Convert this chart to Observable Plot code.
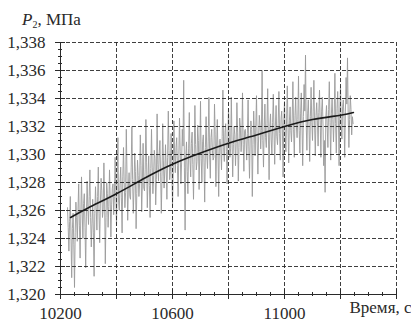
<!DOCTYPE html>
<html><head><meta charset="utf-8">
<script src="https://cdn.jsdelivr.net/npm/d3@7"></script>
<script src="https://cdn.jsdelivr.net/npm/@observablehq/plot@0.6"></script>
<style>
body{margin:0;background:#fff}
svg{display:block}
svg text{font-family:"Liberation Serif","Times New Roman",Times,"DejaVu Serif",serif !important}
</style>
</head><body><div id="chart"></div>
<script>
// Sampling times of the measured series, s
const times = [
10225,10227.5,10230,10232.5,10235,10237.5,10240,10242.5,10245,10247.5,10250,10252.5,10255,10257.5,10260,10262.5,10265,10267.5,10270,10272.5,
10275,10277.5,10280,10282.5,10285,10287.5,10290,10292.5,10295,10297.5,10300,10302.5,10305,10307.5,10310,10312.5,10315,10317.5,10320,10322.5,
10325,10327.5,10330,10332.5,10335,10337.5,10340,10342.5,10345,10347.5,10350,10352.5,10355,10357.5,10360,10362.5,10365,10367.5,10370,10372.5,
10375,10377.5,10380,10382.5,10385,10387.5,10390,10392.5,10395,10397.5,10400,10402.5,10405,10407.5,10410,10412.5,10415,10417.5,10420,10422.5,
10425,10427.5,10430,10432.5,10435,10437.5,10440,10442.5,10445,10447.5,10450,10452.5,10455,10457.5,10460,10462.5,10465,10467.5,10470,10472.5,
10475,10477.5,10480,10482.5,10485,10487.5,10490,10492.5,10495,10497.5,10500,10502.5,10505,10507.5,10510,10512.5,10515,10517.5,10520,10522.5,
10525,10527.5,10530,10532.5,10535,10537.5,10540,10542.5,10545,10547.5,10550,10552.5,10555,10557.5,10560,10562.5,10565,10567.5,10570,10572.5,
10575,10577.5,10580,10582.5,10585,10587.5,10590,10592.5,10595,10597.5,10600,10602.5,10605,10607.5,10610,10612.5,10615,10617.5,10620,10622.5,
10625,10627.5,10630,10632.5,10635,10637.5,10640,10642.5,10645,10647.5,10650,10652.5,10655,10657.5,10660,10662.5,10665,10667.5,10670,10672.5,
10675,10677.5,10680,10682.5,10685,10687.5,10690,10692.5,10695,10697.5,10700,10702.5,10705,10707.5,10710,10712.5,10715,10717.5,10720,10722.5,
10725,10727.5,10730,10732.5,10735,10737.5,10740,10742.5,10745,10747.5,10750,10752.5,10755,10757.5,10760,10762.5,10765,10767.5,10770,10772.5,
10775,10777.5,10780,10782.5,10785,10787.5,10790,10792.5,10795,10797.5,10800,10802.5,10805,10807.5,10810,10812.5,10815,10817.5,10820,10822.5,
10825,10827.5,10830,10832.5,10835,10837.5,10840,10842.5,10845,10847.5,10850,10852.5,10855,10857.5,10860,10862.5,10865,10867.5,10870,10872.5,
10875,10877.5,10880,10882.5,10885,10887.5,10890,10892.5,10895,10897.5,10900,10902.5,10905,10907.5,10910,10912.5,10915,10917.5,10920,10922.5,
10925,10927.5,10930,10932.5,10935,10937.5,10940,10942.5,10945,10947.5,10950,10952.5,10955,10957.5,10960,10962.5,10965,10967.5,10970,10972.5,
10975,10977.5,10980,10982.5,10985,10987.5,10990,10992.5,10995,10997.5,11000,11002.5,11005,11007.5,11010,11012.5,11015,11017.5,11020,11022.5,
11025,11027.5,11030,11032.5,11035,11037.5,11040,11042.5,11045,11047.5,11050,11052.5,11055,11057.5,11060,11062.5,11065,11067.5,11070,11072.5,
11075,11077.5,11080,11082.5,11085,11087.5,11090,11092.5,11095,11097.5,11100,11102.5,11105,11107.5,11110,11112.5,11115,11117.5,11120,11122.5,
11125,11127.5,11130,11132.5,11135,11137.5,11140,11142.5,11145,11147.5,11150,11152.5,11155,11157.5,11160,11162.5,11165,11167.5,11170,11172.5,
11175,11177.5,11180,11182.5,11185,11187.5,11190,11192.5,11195,11197.5,11200,11202.5,11205,11207.5,11210,11212.5,11215,11217.5,11220,11222.5,
11225,11227.5,11230,11232.5,11235,11237.5,11240,11242.5,11245];
// Measured pressure P2, MPa
const pressure = [
1.3262,1.3248,1.3231,1.3252,1.3270,1.3241,1.3212,1.3247,1.3258,1.3236,1.3205,1.3244,1.3266,1.3255,1.3238,1.3261,1.3279,1.3249,1.3226,1.3257,
1.3284,1.3259,1.3240,1.3265,1.3272,1.3248,1.3219,1.3256,1.3281,1.3263,1.3250,1.3270,1.3289,1.3255,1.3234,1.3251,1.3268,1.3244,1.3213,1.3258,
1.3277,1.3262,1.3246,1.3270,1.3291,1.3258,1.3237,1.3266,1.3283,1.3274,1.3255,1.3261,1.3294,1.3268,1.3222,1.3255,1.3280,1.3272,1.3248,1.3263,
1.3289,1.3268,1.3241,1.3264,1.3276,1.3279,1.3257,1.3270,1.3298,1.3275,1.3249,1.3283,1.3312,1.3266,1.3260,1.3280,1.3291,1.3269,1.3244,1.3284,
1.3305,1.3280,1.3262,1.3273,1.3318,1.3286,1.3253,1.3277,1.3287,1.3270,1.3268,1.3291,1.3320,1.3282,1.3258,1.3276,1.3301,1.3288,1.3247,1.3272,
1.3296,1.3285,1.3270,1.3279,1.3314,1.3292,1.3259,1.3281,1.3308,1.3276,1.3274,1.3289,1.3325,1.3294,1.3262,1.3283,1.3299,1.3278,1.3255,1.3290,
1.3318,1.3291,1.3272,1.3285,1.3303,1.3297,1.3264,1.3282,1.3329,1.3293,1.3281,1.3300,1.3310,1.3287,1.3258,1.3284,1.3322,1.3296,1.3276,1.3289,
1.3307,1.3290,1.3268,1.3298,1.3331,1.3303,1.3282,1.3288,1.3315,1.3295,1.3263,1.3286,1.3324,1.3301,1.3287,1.3305,1.3312,1.3292,1.3270,1.3299,
1.3326,1.3302,1.3279,1.3294,1.3318,1.3306,1.3353,1.3291,1.3246,1.3299,1.3309,1.3288,1.3272,1.3304,1.3330,1.3296,1.3284,1.3308,1.3316,1.3293,
1.3268,1.3298,1.3335,1.3307,1.3289,1.3295,1.3321,1.3310,1.3275,1.3302,1.3338,1.3297,1.3280,1.3309,1.3314,1.3294,1.3266,1.3305,1.3327,1.3300,
1.3290,1.3309,1.3341,1.3300,1.3283,1.3312,1.3318,1.3303,1.3296,1.3298,1.3336,1.3314,1.3277,1.3306,1.3325,1.3299,1.3270,1.3310,1.3311,1.3304,
1.3289,1.3313,1.3346,1.3305,1.3295,1.3316,1.3322,1.3302,1.3279,1.3309,1.3333,1.3315,1.3298,1.3304,1.3341,1.3311,1.3284,1.3307,1.3320,1.3314,
1.3292,1.3308,1.3337,1.3316,1.3281,1.3305,1.3326,1.3319,1.3302,1.3312,1.3344,1.3307,1.3288,1.3317,1.3318,1.3310,1.3296,1.3315,1.3339,1.3306,
1.3283,1.3311,1.3324,1.3318,1.3270,1.3307,1.3331,1.3316,1.3299,1.3320,1.3342,1.3309,1.3286,1.3313,1.3328,1.3321,1.3304,1.3317,1.3360,1.3310,
1.3291,1.3319,1.3336,1.3312,1.3305,1.3322,1.3347,1.3314,1.3282,1.3320,1.3329,1.3311,1.3300,1.3323,1.3343,1.3316,1.3293,1.3321,1.3335,1.3313,
1.3307,1.3322,1.3345,1.3315,1.3296,1.3325,1.3331,1.3318,1.3284,1.3323,1.3338,1.3314,1.3302,1.3326,1.3349,1.3319,1.3294,1.3324,1.3334,1.3317,
1.3309,1.3326,1.3352,1.3318,1.3298,1.3328,1.3341,1.3320,1.3312,1.3325,1.3356,1.3317,1.3301,1.3329,1.3344,1.3321,1.3292,1.3327,1.3350,1.3331,
1.3371,1.3322,1.3303,1.3329,1.3339,1.3320,1.3295,1.3327,1.3348,1.3323,1.3310,1.3331,1.3353,1.3321,1.3299,1.3328,1.3337,1.3324,1.3306,1.3330,
1.3346,1.3324,1.3298,1.3331,1.3341,1.3321,1.3292,1.3310,1.3273,1.3326,1.3335,1.3320,1.3305,1.3332,1.3352,1.3323,1.3296,1.3329,1.3340,1.3325,
1.3309,1.3327,1.3358,1.3322,1.3301,1.3333,1.3345,1.3324,1.3292,1.3330,1.3349,1.3321,1.3311,1.3334,1.3339,1.3326,1.3298,1.3331,1.3355,1.3336,
1.3369,1.3328,1.3305,1.3325,1.3342,1.3332,1.3314,1.3327,1.3322];
// Smoothed trend (black curve)
const trendTimes = [10236,10300,10400,10500,10600,10700,10800,10900,11000,11100,11200,11246];
const trendValues = [1.3255,1.3262,1.3272,1.3283,1.3293,1.3301,1.3308,1.3314,1.3320,1.3325,1.3328,1.3330];
// Axes
const xDomain = [10200, 11400];
const yDomain = [1.320, 1.338];
const xGridTicks = [10400,10600,10800,11000,11200,11400];
const xLabelTicks = [10200,10600,11000];
const xMajorTicks = [10200,10400,10600,10800,11000,11200,11400];
const xMinorTicks = [10250,10300,10350,10450,10500,10550,10650,10700,10750,10850,10900,10950,11050,11100,11150,11250,11300,11350];
const yTicks = [1.320,1.322,1.324,1.326,1.328,1.330,1.332,1.334,1.336,1.338];
const yGridTicks = [1.322,1.324,1.326,1.328,1.330,1.332,1.334,1.336,1.338];
const yMinorTicks = [1.3205,1.321,1.3215,1.3225,1.323,1.3235,1.3245,1.325,1.3255,1.3265,1.327,1.3275,1.3285,1.329,1.3295,1.3305,1.331,1.3315,1.3325,1.333,1.3335,1.3345,1.335,1.3355,1.3365,1.337,1.3375];
const xTitle = "Время, с";
const yTitleVar = "P", yTitleSub = "2", yTitleRest = ", МПа";

const series = times.map((t, i) => ({t, p: pressure[i]}));
const trend = trendTimes.map((t, i) => ({t, p: trendValues[i]}));
const fmt = d => d3.format(".3f")(d).replace(".", ",");
const font = "Liberation Serif, Times New Roman, Times, DejaVu Serif, serif";
const ink = "#2a2a2a";
const tickOnly = {stroke: ink, fill: "none", label: null};

const chart = Plot.plot({
  width: 411, height: 322,
  marginLeft: 60, marginRight: 15, marginTop: 42, marginBottom: 28,
  style: {fontFamily: font, fontSize: "17px", color: ink, background: "#fff"},
  x: {domain: xDomain},
  y: {domain: yDomain},
  marks: [
    Plot.line(series, {x: "t", y: "p", stroke: "#9a9a9a", strokeWidth: 0.9}),
    Plot.gridX(xGridTicks, {stroke: ink, strokeOpacity: 0.9, strokeDasharray: "4,2"}),
    Plot.gridY(yGridTicks, {stroke: ink, strokeOpacity: 0.9, strokeDasharray: "4,2"}),
    Plot.line(trend, {x: "t", y: "p", curve: "natural", stroke: "#1a1a1a", strokeWidth: 1.6}),
    Plot.ruleX([xDomain[0]], {stroke: ink}),
    Plot.ruleY([yDomain[0]], {stroke: ink}),
    Plot.axisX(xMajorTicks, {...tickOnly, tickSize: 5}),
    Plot.axisX(xMajorTicks, {...tickOnly, tickSize: 5, dy: -5}),
    Plot.axisX(xMinorTicks, {...tickOnly, tickSize: 4, dy: -2}),
    Plot.axisX(xLabelTicks, {tickSize: 0, tickPadding: 12, fill: ink, stroke: "none", tickFormat: d => String(d), label: null}),
    Plot.axisY(yTicks, {tickSize: 5, stroke: ink, tickPadding: 10, fill: ink, tickFormat: fmt, label: null}),
    Plot.axisY(yTicks, {...tickOnly, tickSize: 5, dx: 5}),
    Plot.axisY(yMinorTicks, {...tickOnly, tickSize: 4, dx: 2}),
    Plot.text([xTitle], {frameAnchor: "bottom-right", dx: 15, dy: 18, textAnchor: "end", fill: ink, fontSize: 17})
  ]
});
document.getElementById("chart").appendChild(chart);

// y-axis title with italic variable and subscript
const svg = d3.select(chart);
const title = svg.append("text").attr("x", 22).attr("y", 25)
  .attr("text-anchor", "start").attr("fill", ink).style("font-size", "17px");
title.append("tspan").attr("font-style", "italic").text(yTitleVar);
title.append("tspan").attr("font-size", "10px").attr("dy", "3").text(yTitleSub);
title.append("tspan").attr("dy", "-3").text(yTitleRest);
svg.selectAll("text").attr("font-family", font).style("font-family", font);
</script></body></html>
